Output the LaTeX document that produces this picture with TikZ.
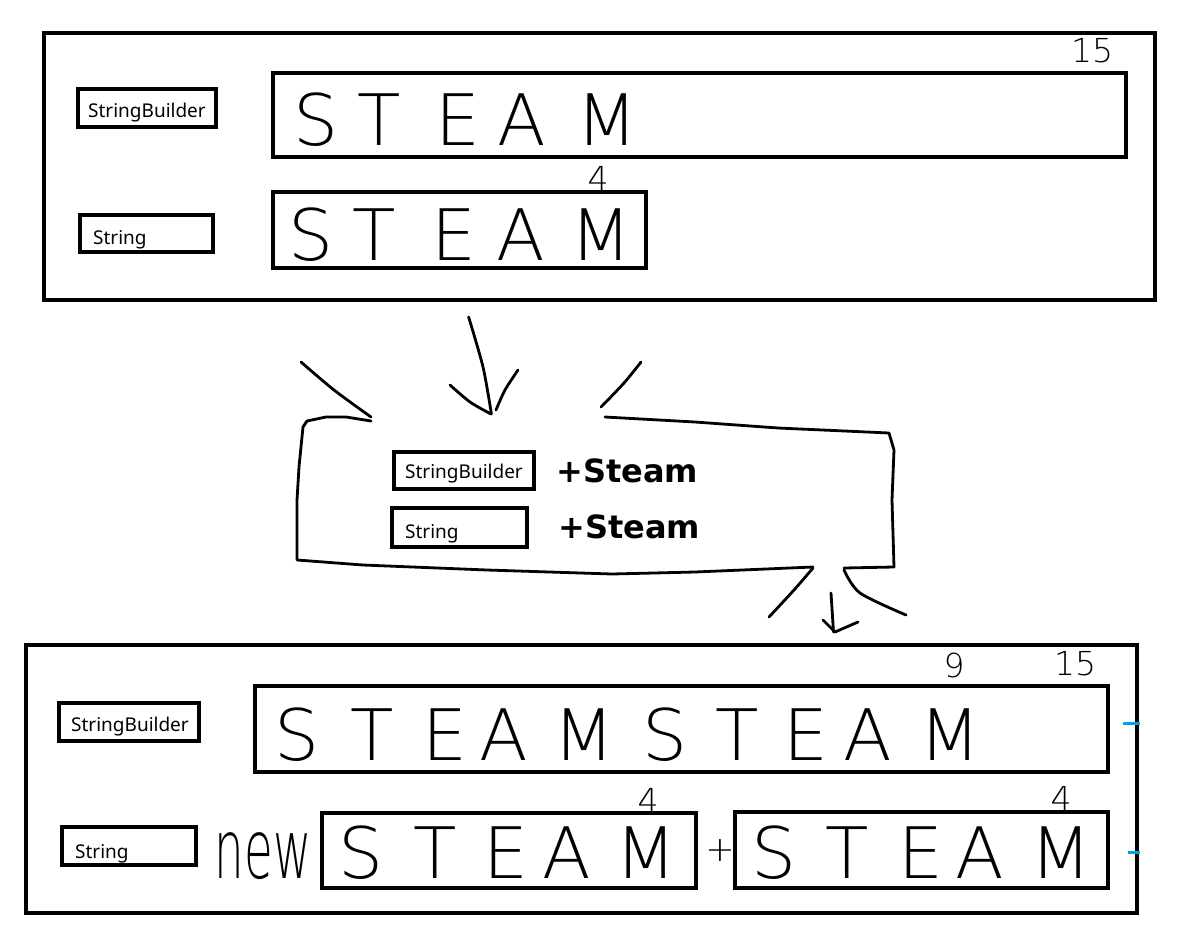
\documentclass[tikz,border=0pt]{standalone}
\usepackage{fontspec}
\setmainfont{Noto Sans}
\newfontfamily\hand{DejaVu Sans ExtraLight}
\newfontfamily\boldf{DejaVu Sans}
\definecolor{tickblue}{RGB}{0,162,232}
\begin{document}
\begin{tikzpicture}[x=1pt,y=-1pt,
  box/.style={draw,line width=4pt},
  lbl/.style={font=\fontsize{19}{19}\selectfont, anchor=base west, inner sep=0},
  let/.style={font=\hand\fontsize{71}{71}\selectfont, anchor=base, inner sep=0},
  num/.style={font=\hand\fontsize{33}{33}\selectfont, anchor=base, inner sep=0},
  plusst/.style={font=\boldf\bfseries\fontsize{32}{32}\selectfont, anchor=base west, inner sep=0},
  hand/.style={line width=2.8pt, line cap=round, line join=round},
  tick/.style={draw=tickblue, line width=3pt}]
\useasboundingbox (0,0) rectangle (1189,951);
\fill[white] (0,0) rectangle (1189,951);

% ---------- top panel ----------
\draw[box] (44,33) rectangle (1155,300);
\draw[box] (78,89) rectangle (216,127);
\node[lbl] (tsbl) at (88,117) {StringBuilder};
\draw[box] (80,215) rectangle (213,252);
\node[lbl] (tstl) at (93,244) {String};
\draw[box] (273,73) rectangle (1126,157);
\foreach \x/\l in {316/S,379/T,458/E,522/A,607/M}
  \node[let] (tsb\x) at (\x,145) {\l};
\node[num] (t15) at (1092,62) {15};
\draw[box] (273,192) rectangle (646,268);
\foreach \x/\l in {311/S,374/T,454/E,521/A,601/M}
  \node[let] (tst\x) at (\x,260) {\l};
\node[num] (t4) at (598,190) {4};

% ---------- middle freehand ----------
\draw[hand] plot[smooth,tension=0.5] coordinates {(301,362) (334,390) (371,417)};
\draw[hand] plot[smooth,tension=0.5] coordinates {(468.6,317) (483,367) (491.4,414)};
\draw[hand] plot[smooth,tension=0.5] coordinates {(450,385) (470,402) (491,414)};
\draw[hand] plot[smooth,tension=0.5] coordinates {(518,370) (505,390) (496,410)};
\draw[hand] plot[smooth,tension=0.5] coordinates {(641,362) (624,383) (601,407)};
\draw[hand] (371,421) -- (346,417) -- (326,417) -- (307,421) -- (303,427)
  -- (299,467) -- (297,500) -- (297,560) -- (363,565) -- (487,570)
  -- (612,574) -- (695,572) -- (813,567);
\draw[hand] (844,568) -- (894,567) -- (892,500) -- (894,450) -- (889,433)
  -- (778,428) -- (695,422) -- (605,417);
\draw[hand] plot[smooth,tension=0.5] coordinates {(813,568) (794,590) (769,617)};
\draw[hand] plot[smooth,tension=0.5] coordinates {(844,570) (860,593) (906,615)};
\draw[hand] (831,593) -- (833.5,632);
\draw[hand] (823,620) -- (835,632) -- (858,622);

\draw[box] (394,452) rectangle (534,489);
\node[lbl] (msbl) at (405,478) {StringBuilder};
\node[plusst] (msbp) at (556,482) {+Steam};
\draw[box] (392,508) rectangle (527,547);
\node[lbl] (mstl) at (405,538) {String};
\node[plusst] (mstp) at (558,538) {+Steam};

% ---------- bottom panel ----------
\draw[box] (26,645) rectangle (1137,913);
\draw[box] (59,703) rectangle (199,741);
\node[lbl] (bsbl) at (71,731) {StringBuilder};
\draw[box] (62,827) rectangle (196,865);
\node[lbl] (bstl) at (75,858) {String};
\draw[box] (255,686) rectangle (1108,772);
\foreach \x/\l in {297/S,372/T,445/E,504/A,584/M,665/S,737/T,806/E,868/A,950/M}
  \node[let] (bsb\x) at (\x,760) {\l};
\node[num] (b9) at (954,677) {9};
\node[num] (b15) at (1075,675) {15};
\node[font=\hand\fontsize{82}{82}\selectfont, anchor=base, inner sep=0] (bnew) at (263,878) {\scalebox{0.57}[1]{new}};
\draw[box] (322,813) rectangle (696,888);
\foreach \x/\l in {361/S,435/T,506/E,567/A,646/M}
  \node[let] (bs1\x) at (\x,878) {\l};
\node[num] (b4a) at (648,812) {4};
\node[font=\hand\fontsize{35}{35}\selectfont, inner sep=0] (bplus) at (720,851) {+};
\draw[box] (735,812) rectangle (1108,888);
\foreach \x/\l in {774/S,847/T,921/E,980/A,1061/M}
  \node[let] (bs2\x) at (\x,878) {\l};
\node[num] (b4b) at (1061,810) {4};
\draw[tick] (1123,723) -- (1140,723);
\draw[tick] (1128,852) -- (1140,852);
\end{tikzpicture}
\end{document}
